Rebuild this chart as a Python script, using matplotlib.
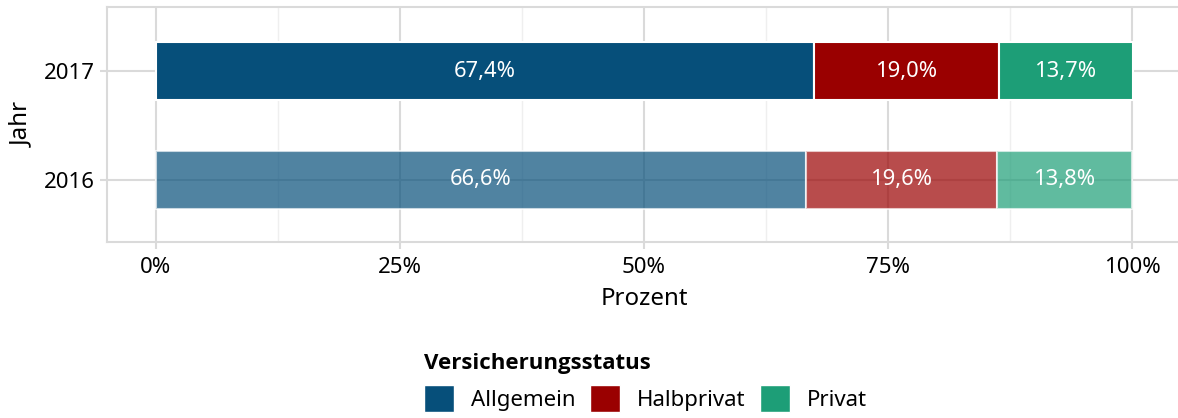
import matplotlib
matplotlib.use("Agg")
from matplotlib import pyplot as plt
from matplotlib.patches import Patch
from matplotlib.font_manager import FontProperties
from matplotlib.ticker import MultipleLocator, FuncFormatter

plt.rcParams['font.family'] = ['Noto Sans', 'DejaVu Sans']

# daten
jahre = ["2016", "2017"]
kategorien = ["Allgemein", "Halbprivat", "Privat"]
werte_2016 = [66.6, 19.6, 13.8]
werte_2017 = [67.4, 19.0, 13.7]
farben = ["#064F7A", "#9A0000", "#1D9E77"]
alphas = [0.7, 1.0]

gitter = "#DADADA"

fig = plt.figure(figsize=(11.78, 4.18), dpi=100)
ax = fig.add_axes([107/1178, (418-242)/418, (1181-107)/1178, (242-7)/418])

for i, werte in enumerate([werte_2016, werte_2017]):
    links = 0
    for j, w in enumerate(werte):
        ax.barh(i + 1, w, left=links, height=0.53, color=farben[j],
                alpha=alphas[i], edgecolor="white", linewidth=1.5, zorder=2)
        txt = ("%.1f%%" % w).replace(".", ",")
        ax.text(links + w / 2, i + 1, txt, color="white", ha="center",
                va="center", fontsize=15.8, zorder=3)
        links += w

ax.set_xlim(-5, 105)
ax.set_ylim(0.43, 2.59)
ax.set_yticks([1, 2])
ax.set_yticklabels(jahre)
ax.xaxis.set_major_locator(MultipleLocator(25))
ax.xaxis.set_minor_locator(MultipleLocator(12.5))
ax.xaxis.set_major_formatter(FuncFormatter(lambda v, p: "%d%%" % v))

ax.set_axisbelow(True)
ax.grid(which="major", color=gitter, linewidth=1.5)
ax.grid(which="minor", axis="x", color="#EFEFEF", linewidth=1)
ax.tick_params(which="major", length=5, width=1.5, color=gitter,
               labelsize=16, pad=4)
ax.tick_params(axis="x", pad=6)
ax.tick_params(which="minor", length=0)

for s in ["left", "bottom", "top"]:
    ax.spines[s].set_color(gitter)
    ax.spines[s].set_linewidth(1.5)
ax.spines["right"].set_visible(False)

ax.set_xlabel("Prozent", fontsize=17.3, labelpad=6)
ax.set_ylabel("Jahr", fontsize=17.3, labelpad=7)

handles = [Patch(facecolor=farben[k], edgecolor="white", label=kategorien[k])
           for k in range(3)]
leg = fig.legend(handles=handles, loc="lower left", bbox_to_anchor=(404/1178, -0.033),
                 ncol=3, frameon=False, title="Versicherungsstatus",
                 fontsize=16, alignment="left",
                 title_fontproperties=FontProperties(family="Open Sans", weight="bold", size=16),
                 handlelength=1.36, handleheight=1.45,
                 handletextpad=0.75, columnspacing=0.65)

fig.savefig("out.png", dpi=100)
